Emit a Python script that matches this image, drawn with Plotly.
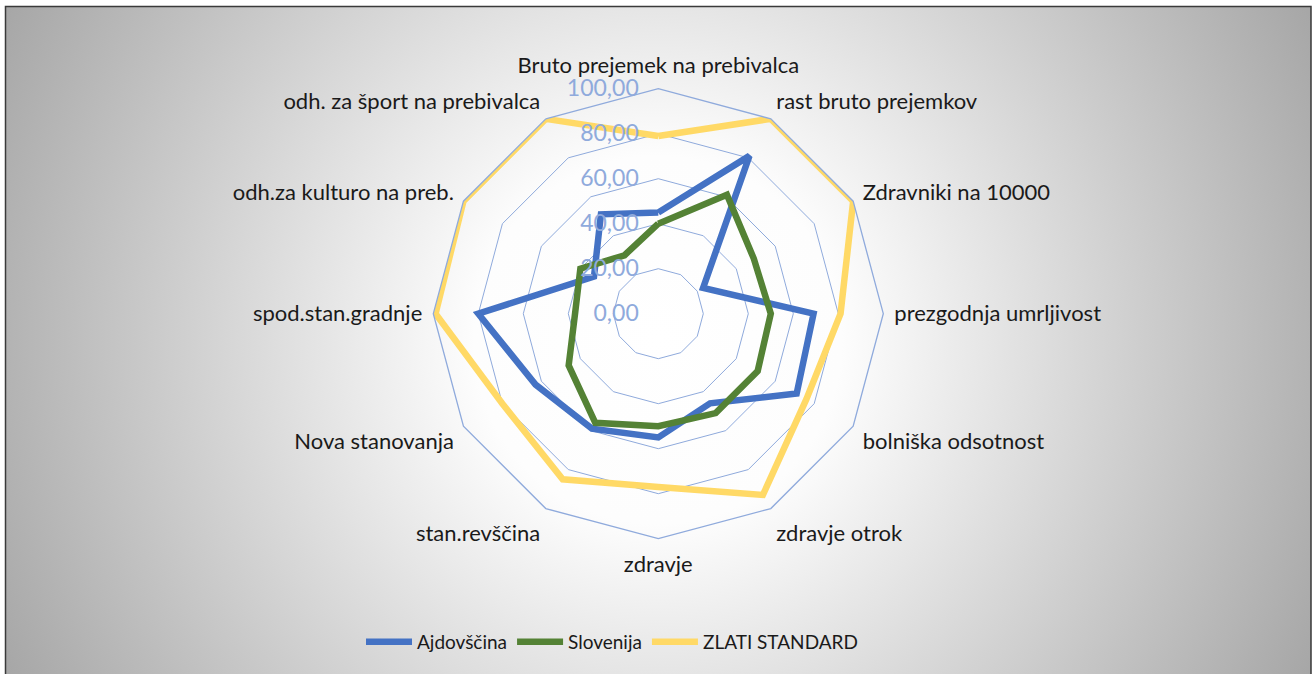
import base64
import plotly.graph_objects as go

categories = [
    "Bruto prejemek na prebivalca",
    "rast bruto prejemkov",
    "Zdravniki na 10000",
    "prezgodnja umrljivost",
    "bolniška odsotnost",
    "zdravje otrok",
    "zdravje",
    "stan.revščina",
    "Nova stanovanja",
    "spod.stan.gradnje",
    "odh.za kulturo na preb.",
    "odh. za šport na prebivalca",
]

ajdovscina = [45, 81, 23, 69, 71, 46, 55, 59, 63, 80, 33, 51]
slovenija = [40, 61, 49, 50, 51, 51, 50, 56, 46, 37, 40, 30]
zlati_standard = [79, 100, 100, 81, 76, 93, 77, 85, 80, 99, 100, 100]

radial_ticks = [0, 20, 40, 60, 80, 100]

W, H = 1314, 674

series = [
    ("Ajdovščina", ajdovscina, "#4472C4"),
    ("Slovenija", slovenija, "#548235"),
    ("ZLATI STANDARD", zlati_standard, "#FFD966"),
]

fig = go.Figure()
for name, vals, col in series:
    fig.add_trace(go.Scatterpolar(
        r=vals + vals[:1],
        theta=categories + categories[:1],
        mode="lines",
        name=name,
        line=dict(color=col, width=6.5),
    ))

# radial gradient background (chart area)
bw, bh = 1306, 668
svg = f'''<svg xmlns="http://www.w3.org/2000/svg" width="{bw}" height="{bh}" viewBox="0 0 {bw} {bh}" preserveAspectRatio="none">
<defs><radialGradient id="g" gradientUnits="userSpaceOnUse" cx="653" cy="334" r="735">
<stop offset="0" stop-color="#ffffff"/><stop offset="0.25" stop-color="#fdfdfd"/>
<stop offset="1" stop-color="#a6a6a6"/></radialGradient></defs>
<rect x="0" y="0" width="{bw}" height="{bh}" fill="url(#g)"/></svg>'''
src = "data:image/svg+xml;base64," + base64.b64encode(svg.encode()).decode()

cx, cy, rad = 658.3, 313.7, 225
fig.update_layout(
    width=W, height=H,
    margin=dict(l=0, r=0, t=0, b=0),
    paper_bgcolor="white",
    separators=", ",
    font=dict(family="Lato, Carlito, sans-serif", size=22, color="#1a1a1a"),
    images=[dict(source=src, xref="paper", yref="paper",
                 x=5 / W, y=1 - 6 / H, sizex=bw / W, sizey=bh / H,
                 xanchor="left", yanchor="top", sizing="stretch", layer="below")],
    shapes=[dict(type="rect", xref="paper", yref="paper",
                 x0=5.5 / W, x1=1311 / W, y0=-0.01, y1=1 - 6.5 / H,
                 line=dict(color="#3a3a3a", width=1.5), fillcolor="rgba(0,0,0,0)")],
    polar=dict(
        domain=dict(x=[(cx - rad) / W, (cx + rad) / W],
                    y=[1 - (cy + rad) / H, 1 - (cy - rad) / H]),
        bgcolor="rgba(0,0,0,0)",
        gridshape="linear",
        radialaxis=dict(
            range=[0, 100], tickvals=radial_ticks, tickformat=".2f",
            angle=90, tickangle=90, side="counterclockwise",
            showline=False, ticks="outside", ticklen=11,
            tickcolor="rgba(0,0,0,0)",
            gridcolor="#8FAADC", gridwidth=1.3,
            tickfont=dict(size=23, color="#8FAADC"),
        ),
        angularaxis=dict(
            direction="clockwise", rotation=90,
            showgrid=False, showline=True,
            linecolor="#8FAADC", linewidth=1.3,
            ticks="outside", ticklen=6, tickcolor="rgba(0,0,0,0)",
            tickfont=dict(size=22, color="#1a1a1a"),
        ),
    ),
    legend=dict(orientation="h", x=361 / W, xanchor="left", y=1 - 642 / H,
                yanchor="middle", font=dict(size=19, color="#1a1a1a"),
                itemwidth=46,
                bgcolor="rgba(0,0,0,0)"),
)

fig.write_html("out.html", config={"displayModeBar": False},
               post_script="document.body.style.margin='0px';")
